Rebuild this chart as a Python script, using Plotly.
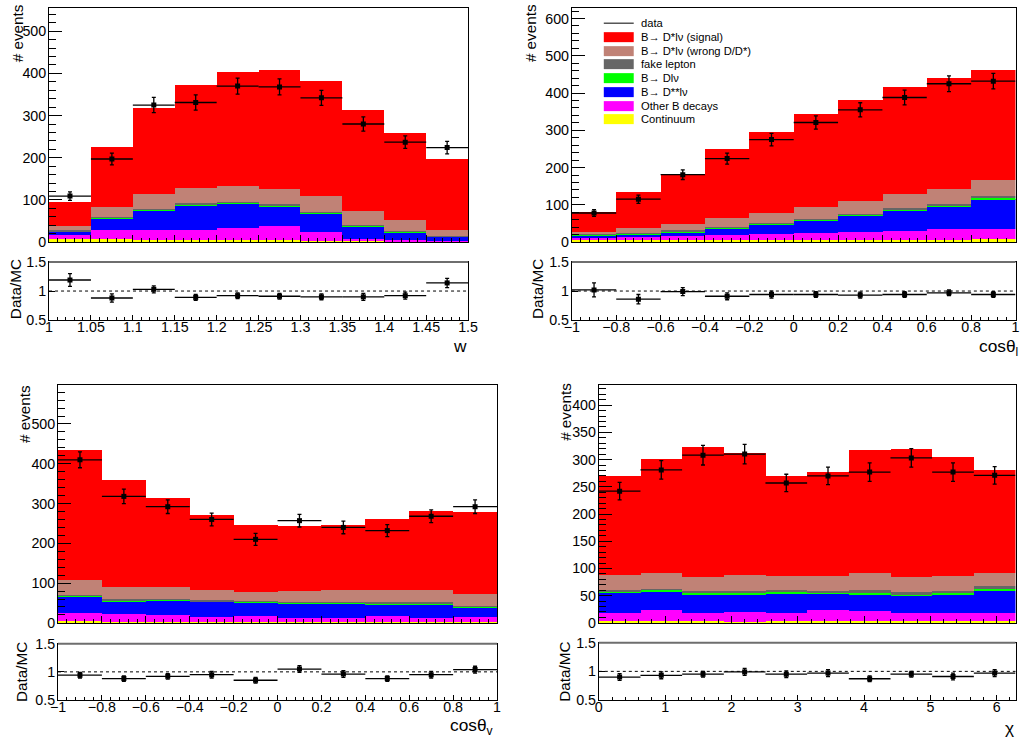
import plotly.graph_objects as go

# Figure fills the 1026x741 page; positions below are given in reference-picture pixels
W, H = 1026, 741
# the photographed page appears inside an 8px frame and is scaled to 1026x741,
# so reference pixels are mapped back to page pixels with these factors
FR = 8
SX = (W + 2 * FR) / W
SY = (H + 2 * FR) / H
FS = (SX + SY) / 2

# ---------------- data ----------------
comp_names = ["Continuum", "Other B decays", "B→ D**lν", "B→ Dlν", "fake lepton",
              "B→ D*lν (wrong D/D*)", "B→ D*lν (signal)"]
comp_colors = ["#ffff00", "#ff00ff", "#0000ff", "#00ff00", "#666666", "#c08276", "#ff0000"]

# panel 1 : w
w_centers = [1.025, 1.075, 1.125, 1.175, 1.225, 1.275, 1.325, 1.375, 1.425, 1.475]
w_width = 0.05
w_cont   = [5, 5, 4, 3, 3, 3, 2, 2, 1, 1]
w_other  = [10, 23, 24, 25, 29, 34, 21, 3, 3, 1]
w_dss    = [8, 27, 46, 58, 58, 47, 43, 30, 18, 10]
w_dl     = [2, 2, 2, 3, 3, 2, 3, 2, 2, 1]
w_fake   = [2, 1, 2, 2, 2, 2, 2, 2, 2, 1]
w_wrong  = [11, 25, 34, 35, 36, 36, 36, 33, 25, 13]
w_signal = [55, 142, 206, 246, 271, 282, 273, 240, 206, 170]
w_data     = [109, 197, 325, 331, 370, 368, 342, 280, 237, 224]
w_data_err = [10, 14, 18, 18, 19, 19, 18, 17, 15, 15]
w_ratio     = [1.19, 0.88, 1.03, 0.89, 0.92, 0.91, 0.90, 0.90, 0.92, 1.14]
w_ratio_err = [0.11, 0.07, 0.06, 0.05, 0.05, 0.05, 0.05, 0.06, 0.06, 0.08]
w_xticks = [1, 1.05, 1.1, 1.15, 1.2, 1.25, 1.3, 1.35, 1.4, 1.45, 1.5]
w_xticktext = ["1", "1.05", "1.1", "1.15", "1.2", "1.25", "1.3", "1.35", "1.4", "1.45", "1.5"]

# panel 2 : cos theta_l
cl_centers = [-0.9, -0.7, -0.5, -0.3, -0.1, 0.1, 0.3, 0.5, 0.7, 0.9]
cl_width = 0.2
cl_cont   = [4, 3, 3, 3, 4, 4, 4, 4, 5, 6]
cl_other  = [7, 10, 11, 14, 16, 19, 21, 25, 28, 29]
cl_dss    = [5, 6, 11, 17, 25, 33, 44, 54, 60, 79]
cl_dl     = [2, 2, 3, 3, 3, 3, 3, 3, 3, 3]
cl_fake   = [2, 2, 2, 2, 2, 2, 3, 4, 5, 5]
cl_wrong  = [7, 13, 18, 24, 28, 32, 35, 37, 39, 42]
cl_signal = [52, 97, 134, 185, 216, 250, 271, 288, 299, 297]
cl_data     = [78, 115, 181, 224, 275, 321, 355, 388, 425, 432]
cl_data_err = [9, 11, 13, 15, 17, 18, 19, 20, 21, 21]
cl_ratio     = [1.02, 0.86, 0.99, 0.91, 0.94, 0.94, 0.93, 0.94, 0.97, 0.94]
cl_ratio_err = [0.12, 0.08, 0.07, 0.06, 0.06, 0.05, 0.05, 0.05, 0.05, 0.05]

# panel 3 : cos theta_v
cv_centers = [-0.9, -0.7, -0.5, -0.3, -0.1, 0.1, 0.3, 0.5, 0.7, 0.9]
cv_width = 0.2
cv_cont   = [4, 3, 3, 3, 3, 3, 3, 3, 3, 3]
cv_other  = [20, 19, 16, 11, 14, 10, 10, 14, 10, 11]
cv_dss    = [43, 33, 38, 39, 33, 36, 35, 30, 34, 24]
cv_dl     = [1, 2, 2, 2, 3, 2, 2, 2, 2, 3]
cv_fake   = [3, 2, 2, 2, 1, 2, 3, 4, 3, 2]
cv_wrong  = [36, 31, 29, 25, 24, 27, 30, 29, 30, 29]
cv_signal = [328, 270, 225, 190, 167, 163, 164, 180, 199, 208]
cv_data     = [410, 318, 292, 260, 210, 257, 240, 232, 268, 292]
cv_data_err = [20, 18, 17, 16, 15, 16, 16, 15, 16, 17]
cv_ratio     = [0.94, 0.88, 0.92, 0.95, 0.85, 1.05, 0.96, 0.88, 0.95, 1.04]
cv_ratio_err = [0.05, 0.05, 0.05, 0.06, 0.05, 0.06, 0.06, 0.05, 0.06, 0.06]

cos_xticks = [-1, -0.8, -0.6, -0.4, -0.2, 0, 0.2, 0.4, 0.6, 0.8, 1]
cos_xticktext = ["−1", "−0.8", "−0.6", "−0.4", "−0.2", "0", "0.2", "0.4", "0.6", "0.8", "1"]

# panel 4 : chi
chi_centers = [0.314, 0.942, 1.571, 2.199, 2.827, 3.456, 4.084, 4.712, 5.341, 5.969]
chi_width = 0.6283
chi_cont   = [3, 3, 3, 2, 3, 3, 3, 3, 3, 3]
chi_other  = [15, 20, 16, 18, 16, 20, 18, 16, 16, 15]
chi_dss    = [38, 35, 33, 33, 35, 31, 32, 31, 34, 41]
chi_dl     = [2, 3, 3, 3, 2, 2, 2, 3, 2, 3]
chi_fake   = [3, 2, 3, 3, 4, 2, 5, 3, 3, 5]
chi_wrong  = [27, 28, 26, 29, 27, 28, 31, 28, 28, 25]
chi_signal = [181, 210, 239, 224, 183, 192, 227, 236, 219, 188]
chi_data     = [242, 281, 308, 310, 257, 270, 277, 303, 277, 271]
chi_data_err = [16, 17, 18, 18, 16, 16, 17, 17, 17, 16]
chi_ratio     = [0.90, 0.93, 0.95, 0.99, 0.95, 0.97, 0.87, 0.95, 0.91, 0.97]
chi_ratio_err = [0.06, 0.06, 0.05, 0.06, 0.06, 0.06, 0.05, 0.05, 0.06, 0.06]
chi_xticks = [0, 1, 2, 3, 4, 5, 6]
chi_xticktext = ["0", "1", "2", "3", "4", "5", "6"]

# ---------------- layout geometry (reference pixels) ----------------
panels = [
    dict(centers=w_centers, width=w_width,
         stack=[w_cont, w_other, w_dss, w_dl, w_fake, w_wrong, w_signal],
         data=w_data, err=w_data_err, ratio=w_ratio, rerr=w_ratio_err,
         xr=[1.0, 1.5], yr=[0, 554], ydt=100, yminor=20, xdt=0.05, xminor=0.01,
         xticks=w_xticks, xtext=w_xticktext,
         px=(49, 469), main=(5, 242), rat=(262, 320),
         ylab=(17, 33), rlab=(15, 289), xlab=(461, 346), xtitle="w"),
    dict(centers=cl_centers, width=cl_width,
         stack=[cl_cont, cl_other, cl_dss, cl_dl, cl_fake, cl_wrong, cl_signal],
         data=cl_data, err=cl_data_err, ratio=cl_ratio, rerr=cl_ratio_err,
         xr=[-1, 1], yr=[0, 627], ydt=100, yminor=20, xdt=0.2, xminor=0.04,
         xticks=cos_xticks, xtext=cos_xticktext,
         px=(573, 1022), main=(5, 242), rat=(262, 320),
         ylab=(531, 33), rlab=(538, 289), xlab=(1001, 347), xtitle="cosθ<sub>l</sub>"),
    dict(centers=cv_centers, width=cv_width,
         stack=[cv_cont, cv_other, cv_dss, cv_dl, cv_fake, cv_wrong, cv_signal],
         data=cv_data, err=cv_data_err, ratio=cv_ratio, rerr=cv_ratio_err,
         xr=[-1, 1], yr=[0, 598], ydt=100, yminor=20, xdt=0.2, xminor=0.04,
         xticks=cos_xticks, xtext=cos_xticktext,
         px=(58, 498), main=(385, 623), rat=(644, 700),
         ylab=(25, 414), rlab=(22, 672), xlab=(473, 727), xtitle="cosθ<sub>v</sub>"),
    dict(centers=chi_centers, width=chi_width,
         stack=[chi_cont, chi_other, chi_dss, chi_dl, chi_fake, chi_wrong, chi_signal],
         data=chi_data, err=chi_data_err, ratio=chi_ratio, rerr=chi_ratio_err,
         xr=[0, 6.2832], yr=[0, 437], ydt=50, yminor=10, xdt=1, xminor=0.2,
         xticks=chi_xticks, xtext=chi_xticktext,
         px=(600, 1018), main=(385, 623), rat=(643, 700),
         ylab=(567, 412), rlab=(566, 672), xlab=(1012, 728), xtitle="χ"),
]

FONT = "Liberation Sans, Arial, Helvetica, sans-serif"


def fx(t):
    p = t * SX - FR
    p = min(max(p, 0.5), W - 0.5)
    return p / W


def fy(t):
    p = t * SY - FR
    p = min(max(p, 0.5), H - 0.5)
    return 1 - p / H


def xdom(a, b):
    return [fx(a), fx(b)]


def ydom(top, bottom):
    return [fy(bottom), fy(top)]


fig = go.Figure()
layout = {}
shapes = []
annotations = []

for k, p in enumerate(panels):
    nm = 2 * k + 1
    nr = 2 * k + 2
    xm = "x" if nm == 1 else f"x{nm}"
    ym = "y" if nm == 1 else f"y{nm}"
    xr_ = f"x{nr}"
    yr_ = f"y{nr}"
    half = p["width"] / 2

    for vals, name, col in zip(p["stack"], comp_names, comp_colors):
        fig.add_trace(go.Bar(x=p["centers"], y=vals, width=[p["width"]] * len(vals),
                             marker=dict(color=col, line=dict(width=0)), name=name,
                             xaxis=xm, yaxis=ym, showlegend=False, hoverinfo="skip"))
    fig.add_trace(go.Scatter(x=p["centers"], y=p["data"], mode="markers",
                             marker=dict(symbol="square", size=5, color="black"),
                             error_x=dict(type="constant", value=half, width=0, thickness=1.3, color="black"),
                             error_y=dict(type="data", array=p["err"], width=2, thickness=1.3, color="black"),
                             xaxis=xm, yaxis=ym, showlegend=False, name="data"))
    fig.add_trace(go.Scatter(x=p["centers"], y=p["ratio"], mode="markers",
                             marker=dict(symbol="square", size=5, color="black"),
                             error_x=dict(type="constant", value=half, width=0, thickness=1.3, color="black"),
                             error_y=dict(type="data", array=p["rerr"], width=2, thickness=1.3, color="black"),
                             xaxis=xr_, yaxis=yr_, showlegend=False, name="Data/MC"))

    common = dict(showline=True, mirror=True, linecolor="black", linewidth=1,
                  showgrid=False, zeroline=False, ticks="inside", tickcolor="black",
                  tickfont=dict(family=FONT, size=14 * FS, color="black"))
    xkey_m = "xaxis" if nm == 1 else f"xaxis{nm}"
    ykey_m = "yaxis" if nm == 1 else f"yaxis{nm}"
    layout[xkey_m] = dict(common, domain=xdom(*p["px"]), range=p["xr"], anchor=ym,
                          showticklabels=False, tick0=0 if k == 3 else p["xr"][0], dtick=p["xdt"], ticklen=7,
                          minor=dict(dtick=p["xminor"], ticklen=4, ticks="inside", tickcolor="black"))
    layout[ykey_m] = dict(common, domain=ydom(*p["main"]), range=p["yr"], anchor=xm,
                          tick0=0, dtick=p["ydt"], ticklen=13, ticklabelstandoff=-1,
                          minor=dict(dtick=p["yminor"], ticklen=7, ticks="inside", tickcolor="black"))
    layout[f"xaxis{nr}"] = dict(common, domain=xdom(*p["px"]), range=p["xr"], anchor=yr_,
                                tickvals=p["xticks"], ticktext=p["xtext"], ticklen=5,
                                ticklabelstandoff=-6,
                                minor=dict(dtick=p["xminor"], ticklen=3, ticks="inside", tickcolor="black"))
    layout[f"yaxis{nr}"] = dict(common, domain=ydom(*p["rat"]), range=[0.5, 1.5], anchor=xr_,
                                tickvals=[0.5, 1, 1.5], ticktext=["0.5", "1", "1.5"], ticklen=6,
                                ticklabelstandoff=-1)

    # reference line at ratio 1 and the heavier grey top edge of the ratio frame
    shapes.append(dict(type="line", xref=f"{xr_} domain", yref=yr_, x0=0, x1=1, y0=1, y1=1,
                       line=dict(color="black", width=1, dash="dot")))
    shapes.append(dict(type="line", xref=f"{xr_} domain", yref=f"{yr_} domain", x0=0, x1=1,
                       y0=1, y1=1, line=dict(color="#6e6e6e", width=2)))

    annotations.append(dict(text="# events", textangle=-90, xref="paper", yref="paper",
                            x=fx(p["ylab"][0]), y=fy(p["ylab"][1]), showarrow=False,
                            xanchor="center", yanchor="middle",
                            font=dict(family=FONT, size=15 * FS, color="black")))
    annotations.append(dict(text="Data/MC", textangle=-90, xref="paper", yref="paper",
                            x=fx(p["rlab"][0]), y=fy(p["rlab"][1]), showarrow=False,
                            xanchor="center", yanchor="middle",
                            font=dict(family=FONT, size=15 * FS, color="black")))
    annotations.append(dict(text=p["xtitle"], xref="paper", yref="paper",
                            x=fx(p["xlab"][0]), y=fy(p["xlab"][1]), showarrow=False,
                            xanchor="center", yanchor="middle",
                            font=dict(family=FONT, size=17 * FS, color="black")))

# ---------------- legend (drawn in panel 2) ----------------
leg_x0, leg_x1, leg_text_x = 605, 635, 640
leg_rows = [23, 37, 51, 64, 78, 92, 106, 119]
shapes.append(dict(type="line", xref="paper", yref="paper",
                   x0=fx(leg_x0), x1=fx(leg_x1), y0=fy(leg_rows[0]), y1=fy(leg_rows[0]),
                   line=dict(color="black", width=1)))
annotations.append(dict(text="data", xref="paper", yref="paper", x=fx(leg_text_x),
                        y=fy(leg_rows[0]), xanchor="left", yanchor="middle", showarrow=False,
                        font=dict(family=FONT, size=11 * FS, color="black")))
leg_order = list(range(len(comp_names)))[::-1]
for row, ci in zip(leg_rows[1:], leg_order):
    shapes.append(dict(type="rect", xref="paper", yref="paper",
                       x0=fx(leg_x0), x1=fx(leg_x1), y0=fy(row + 5), y1=fy(row - 5),
                       fillcolor=comp_colors[ci], line=dict(width=0)))
    annotations.append(dict(text=comp_names[ci], xref="paper", yref="paper", x=fx(leg_text_x),
                            y=fy(row), xanchor="left", yanchor="middle", showarrow=False,
                            font=dict(family=FONT, size=11 * FS, color="black")))

fig.update_layout(**layout)
fig.update_layout(width=W, height=H, margin=dict(l=0, r=0, t=0, b=0), autosize=False,
                  barmode="stack", bargap=0, plot_bgcolor="white", paper_bgcolor="white",
                  shapes=shapes, annotations=annotations, showlegend=False,
                  font=dict(family=FONT, color="black"))

fig.write_html("out.html", config={"displayModeBar": False},
               post_script="document.body.style.margin='0';document.body.style.padding='0';"
                           "document.body.style.overflow='hidden';")
